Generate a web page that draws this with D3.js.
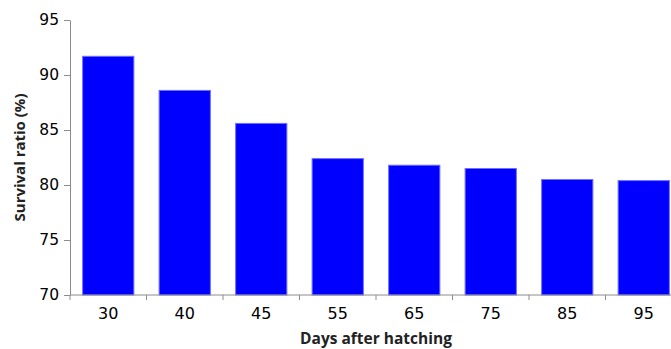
<!DOCTYPE html>
<html>
<head>
<meta charset="utf-8">
<script src="https://cdn.jsdelivr.net/npm/d3@7"></script>
<style>
  html, body { margin: 0; padding: 0; background: #fff; overflow: hidden; }
  svg { display: block; }
</style>
</head>
<body>
<svg id="chart" width="671" height="349"></svg>
<script>
const categories = ["30", "40", "45", "55", "65", "75", "85", "95"];
const survival = [91.7, 88.6, 85.6, 82.4, 81.8, 81.5, 80.5, 80.4];
const yTicks = [70, 75, 80, 85, 90, 95];
const xTitle = "Days after hatching";
const yTitle = "Survival ratio (%)";

const svg = d3.select("#chart");
const mLeft = 70, mRight = 682, mTop = 20, mBottom = 295;

const x = d3.scaleBand().domain(categories).range([mLeft, mRight]).paddingInner(0.33).paddingOuter(0.165);
const y = d3.scaleLinear().domain([70, 95]).range([mBottom, mTop]);

// bars
svg.append("g").selectAll("rect")
  .data(categories.map((c, i) => ({ c, v: survival[i] })))
  .join("rect")
  .attr("x", d => x(d.c))
  .attr("width", x.bandwidth())
  .attr("y", d => y(d.v))
  .attr("height", d => y(70) - y(d.v))
  .attr("fill", "#0000ff")
  .attr("stroke", "#7070ff")
  .attr("stroke-width", 1);

// y axis
const yAxis = svg.append("g")
  .attr("transform", `translate(${mLeft},0)`)
  .call(d3.axisLeft(y).tickValues(yTicks).tickSize(6).tickPadding(5).tickSizeOuter(0));
yAxis.select(".domain").attr("stroke", "#8c8c8c");
yAxis.selectAll(".tick line").attr("stroke", "#8c8c8c");
yAxis.selectAll(".tick text")
  .attr("font-family", "DejaVu Sans, Verdana, sans-serif")
  .attr("font-size", 15.5)
  .attr("fill", "#000");

// x axis: ticks at category boundaries
const xAxisG = svg.append("g").attr("transform", `translate(0,${mBottom})`);
xAxisG.append("line")
  .attr("x1", mLeft).attr("x2", mRight).attr("y1", 0).attr("y2", 0)
  .attr("stroke", "#8c8c8c");
const step = x.step();
const boundaries = d3.range(categories.length + 1).map(i => mLeft + i * step);
xAxisG.selectAll("line.tk").data(boundaries).join("line")
  .attr("class", "tk")
  .attr("x1", d => d).attr("x2", d => d)
  .attr("y1", 0).attr("y2", 5)
  .attr("stroke", "#8c8c8c");
xAxisG.selectAll("text").data(categories).join("text")
  .attr("x", d => x(d) + x.bandwidth() / 2)
  .attr("y", 24)
  .attr("text-anchor", "middle")
  .attr("font-family", "DejaVu Sans, Verdana, sans-serif")
  .attr("font-size", 16)
  .attr("fill", "#000")
  .text(d => d);

// axis titles
svg.append("text")
  .attr("x", (mLeft + mRight) / 2)
  .attr("y", 344)
  .attr("text-anchor", "middle")
  .attr("font-family", "'Open Sans', Lato, sans-serif")
  .attr("font-weight", "bold")
  .attr("font-size", 15.5)
  .attr("fill", "#222")
  .text(xTitle);

svg.append("text")
  .attr("transform", `translate(25,${(mTop + mBottom) / 2}) rotate(-90)`)
  .attr("text-anchor", "middle")
  .attr("font-family", "'Open Sans', Lato, sans-serif")
  .attr("font-weight", "bold")
  .attr("font-size", 15)
  .attr("fill", "#222")
  .text(yTitle);
</script>
</body>
</html>
